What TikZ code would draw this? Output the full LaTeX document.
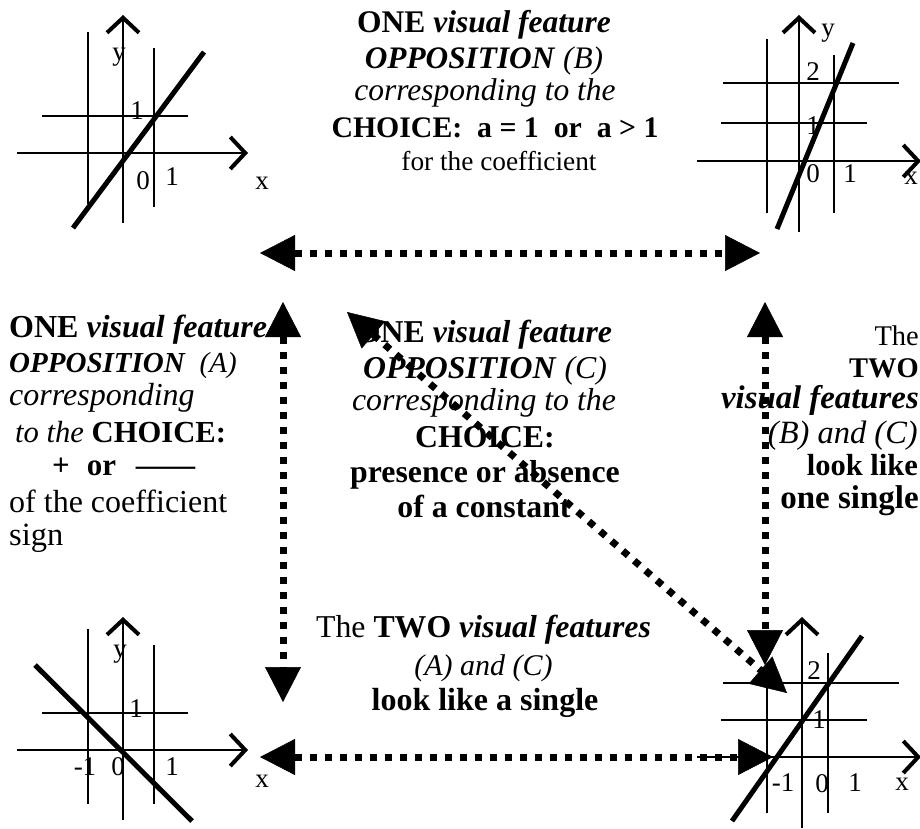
\documentclass[tikz,border=0pt]{standalone}
\usepackage{fontspec}
\setmainfont{Liberation Serif}
\usepackage{graphicx}
\usetikzlibrary{arrows.meta}
\begin{document}
\begin{tikzpicture}[x=1pt,y=-1pt,
  gridln/.style={line width=2pt},
  graphln/.style={line width=5pt},
  axisln/.style={line width=2pt,-{Straight Barb[length=15pt,width=32pt,line width=4pt]}},
  dotarrow/.style={line width=7pt,dash pattern=on 7pt off 8pt,
    {Triangle[length=35pt,width=36pt,line width=0.5pt]}-{Triangle[length=35pt,width=36pt,line width=0.5pt]}},
  lbl/.style={inner sep=0pt,font=\fontsize{27}{32}\selectfont},
  txt/.style={inner sep=0pt,anchor=base,font=\fontsize{#1}{#1}\selectfont},
  txt/.default=31.5,
  txtl/.style={txt=#1,anchor=base west},
  txtl/.default=31.5,
  txtr/.style={txt=#1,anchor=base east},
  txtr/.default=31.5]
\useasboundingbox (0,0) rectangle (920,828);

% ---------- top-left graph ----------
\draw[gridln] (88,32) -- (88,204);
\draw[gridln] (154,48) -- (154,207);
\draw[gridln] (42,116) -- (188,116);
\draw[axisln] (17,153) -- (248,153);
\draw[axisln] (123,223) -- (123,15);
\draw[graphln] (73,228) -- (204,52);
\node[lbl] (tly) at (119,57) {y};
\node[lbl] (tl1y) at (137,111) {1};
\node[lbl] (tl0) at (143,181) {0};
\node[lbl] (tl1x) at (172,177) {1};
\node[lbl] (tlx) at (262,183) {x};

% ---------- top-right graph ----------
\draw[gridln] (767,39) -- (767,213);
\draw[gridln] (834,55) -- (834,213);
\draw[gridln] (723,83) -- (899,83);
\draw[gridln] (721,123) -- (867,123);
\draw[axisln] (697,161) -- (921,161);
\draw[axisln] (799,232) -- (799,15);
\draw[graphln] (777,229) -- (853,43);
\node[lbl] (try) at (828,33) {y};
\node[lbl] (tr2) at (813,72) {2};
\node[lbl] (tr1y) at (813,126) {1};
\node[lbl] (tr0) at (813,174) {0};
\node[lbl] (tr1x) at (850,174) {1};
\node[lbl] (trx) at (911,178) {x};

% ---------- bottom-left graph ----------
\draw[gridln] (88,629) -- (88,804);
\draw[gridln] (154,645) -- (154,804);
\draw[gridln] (42,713) -- (188,713);
\draw[axisln] (17,750) -- (248,750);
\draw[axisln] (123,820) -- (123,617);
\draw[graphln] (35,665) -- (192,821);
\node[lbl] (bly) at (120,654) {y};
\node[lbl] (bl1y) at (136,709) {1};
\node[lbl] (blm1) at (85,767) {-1};
\node[lbl] (bl0) at (118,767) {0};
\node[lbl] (bl1x) at (172,767) {1};
\node[lbl] (blx) at (262,781) {x};

% ---------- bottom-right graph ----------
\draw[gridln] (767,683) -- (767,813);
\draw[gridln] (828,653) -- (828,813);
\draw[gridln] (723,683) -- (899,683);
\draw[gridln] (721,720) -- (867,720);
\draw[axisln] (697,757) -- (921,757);
\draw[axisln] (802,828) -- (802,617);
\draw[graphln] (732,821) -- (862,636);
\node[lbl] (br2) at (814,671) {2};
\node[lbl] (br1y) at (819,720) {1};
\node[lbl] (brm1) at (783,783) {-1};
\node[lbl] (br0) at (822,784) {0};
\node[lbl] (br1x) at (855,783) {1};
\node[lbl] (brx) at (902,784) {x};

% ---------- dotted double arrows ----------
\coordinate (topL) at (260,253);
\coordinate (topR) at (760,253);
\coordinate (botL) at (260,757);
\coordinate (botR) at (773,757);
\coordinate (lefU) at (283,302);
\coordinate (lefD) at (283,702);
\coordinate (rigU) at (765,302);
\coordinate (rigD) at (765,665);
\coordinate (diaU) at (347,312);
\coordinate (diaD) at (787,693);
\draw[dotarrow] (topL) -- (topR);
\draw[dotarrow] (botL) -- (botR);
\draw[dotarrow] (lefU) -- (lefD);
\draw[dotarrow] (rigU) -- (rigD);
\draw[dotarrow] (diaU) -- (diaD);

% ---------- text B (top) ----------
\node[txt=31.5] (b1) at (484,32) {\textbf{ONE} \textbf{\textit{visual feature}}};
\node[txt=31.3] (b2) at (484,68) {\textbf{\textit{OPPOSITION}} \textit{(B)}};
\node[txt=31.5] (b3) at (485,100) {\textit{corresponding to the}};
\node[txt=29.8] (b4) at (495,137) {\textbf{CHOICE:\ \ a = 1\ \ or\ \ a > 1}};
\node[txt=27.3] (b5) at (499,170) {for the coefficient};

% ---------- text A (left) ----------
\node[txtl=32] (a1) at (9,337) {\textbf{ONE} \textbf{\textit{visual feature}}};
\node[txtl=29] (a2) at (9,372) {\textbf{\textit{OPPOSITION}}\hspace{14pt}\textit{(A)}};
\node[txtl=32] (a3) at (9,405) {\textit{corresponding}};
\node[txtl=30.6] (a4) at (15,442) {\textit{to the} \textbf{CHOICE:}};
\node[txtl=31] (a5) at (52,475) {\textbf{+}\hspace{17pt}\textbf{or}\hspace{20pt}\textbf{\scalebox{1.9}[1]{—}}};
\node[txtl=32] (a6) at (9,512) {of the coefficient};
\node[txtl=32.5] (a7) at (9,545) {sign};

% ---------- text C (centre) ----------
\node[txt=31.8] (c1) at (484,342) {\textbf{ONE} \textbf{\textit{visual feature}}};
\node[txt=31.8] (c2) at (485,378) {\textbf{\textit{OPPOSITION}} \textit{(C)}};
\node[txt=31.8] (c3) at (484,410) {\textit{corresponding to the}};
\node[txt=31.8] (c4) at (485,447) {\textbf{CHOICE:}};
\node[txt=31.8] (c5) at (485,482) {\textbf{presence or absence}};
\node[txt=31.8] (c6) at (484,517) {\textbf{of a constant}};

% ---------- text right ----------
\node[txtr=28.5] (r1) at (919,345) {The};
\node[txtr=28.5] (r2) at (919,377) {\textbf{TWO}};
\node[txtr=32.8] (r3) at (919,408) {\textbf{\textit{visual features}}};
\node[txtr=32.5] (r4) at (918,443) {\textit{(B) and (C)}};
\node[txtr=30.5] (r5) at (918,475) {\textbf{look like}};
\node[txtr=33] (r6) at (919,508) {\textbf{one single}};

% ---------- text bottom ----------
\node[txt=31.8] (d1) at (483.5,637) {The \textbf{TWO} \textbf{\textit{visual features}}};
\node[txt=30] (d2) at (483.5,675) {\textit{(A) and (C)}};
\node[txt=32] (d3) at (485,710) {\textbf{look like a single}};
\end{tikzpicture}
\end{document}
